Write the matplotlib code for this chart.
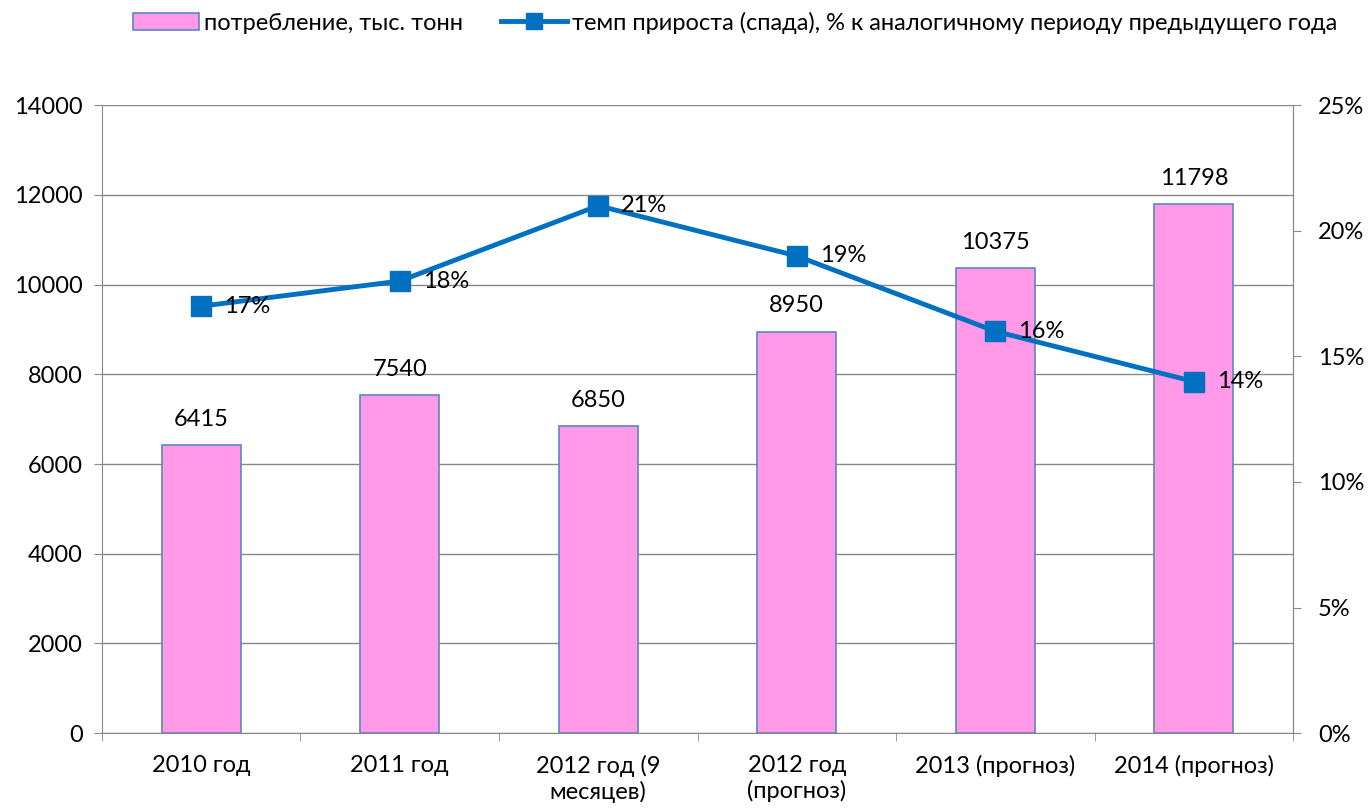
import numpy as np
import matplotlib.pyplot as plt
from matplotlib.lines import Line2D
from matplotlib.patches import Patch

plt.rcParams["font.family"] = ["Lato", "DejaVu Sans"]

categories = ["2010 год", "2011 год", "2012 год (9\nмесяцев)", "2012 год\n(прогноз)",
              "2013 (прогноз)", "2014 (прогноз)"]
consumption = [6415, 7540, 6850, 8950, 10375, 11798]
growth = [17, 18, 21, 19, 16, 14]

pink = "#FF99E8"
edge = "#5B86C5"
blue = "#0070C0"
gray = "#898989"
fs = 17

fig = plt.figure(figsize=(13.69, 8.10), dpi=100)
ax = fig.add_axes([0.0745, 0.095, 0.87, 0.775])
x = np.arange(len(categories))

ax.bar(x, consumption, 0.4, color=pink, edgecolor=edge, linewidth=1.2, zorder=2)
for i, v in enumerate(consumption):
    ax.text(i, v + 340, str(v), ha="center", va="bottom", fontsize=fs)

ax.set_xlim(-0.5, len(categories) - 0.5)
ax.set_ylim(0, 14000)
ax.set_yticks(np.arange(0, 14001, 2000))
ax.grid(True, axis="y", color=gray, linewidth=1, zorder=0)
ax.set_axisbelow(True)
ax.set_xticks(x)
ax.set_xticklabels(categories, fontsize=fs)
ax.set_xticks(np.arange(-0.5, len(categories)), minor=True)
ax.tick_params(axis="x", which="major", length=0, pad=16)
ax.tick_params(axis="x", which="minor", length=6, color=gray)
ax.tick_params(axis="y", labelsize=fs, length=6, color=gray, pad=8)
ax.spines["top"].set_visible(False)
for s in ["left", "bottom", "right"]:
    ax.spines[s].set_color(gray)

ax2 = ax.twinx()
ax2.plot(x, growth, color=blue, linewidth=3.5, marker="s", markersize=14, zorder=3)
for i, v in enumerate(growth):
    ax2.text(i + 0.115, v, f"{v}%", ha="left", va="center", fontsize=fs)
ax2.set_ylim(0, 25)
ax2.set_yticks(np.arange(0, 26, 5))
ax2.set_yticklabels([f"{t}%" for t in range(0, 26, 5)])
ax2.tick_params(axis="y", labelsize=fs, length=6, color=gray, pad=12)
for s in ["top", "left", "bottom"]:
    ax2.spines[s].set_visible(False)
ax2.spines["right"].set_color(gray)

handles = [Patch(facecolor=pink, edgecolor=edge, linewidth=1.2),
           Line2D([], [], color=blue, linewidth=3.5, marker="s", markersize=12)]
labels = ["потребление, тыс. тонн",
          "темп прироста (спада), % к аналогичному периоду предыдущего года"]
fig.legend(handles, labels, loc="upper center", bbox_to_anchor=(0.537, 1.012), ncol=2,
           frameon=False, fontsize=fs, handlelength=2.8, handletextpad=0.2, columnspacing=1.6)

fig.savefig("out.png", dpi=100)
